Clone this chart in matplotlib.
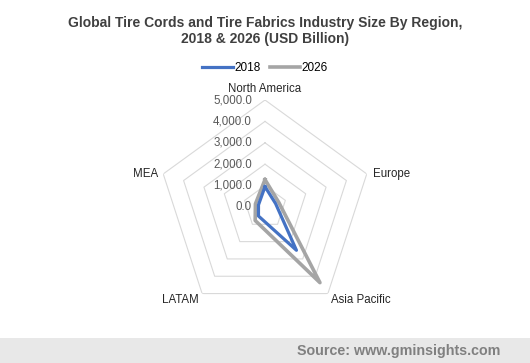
import numpy as np
import matplotlib.pyplot as plt
from matplotlib.patches import Rectangle
from matplotlib.transforms import ScaledTranslation

plt.rcParams['font.family'] = ['Liberation Sans', 'DejaVu Sans']

regions = ["North America", "Europe", "Asia Pacific", "LATAM", "MEA"]
size_2018 = [950, 520, 2500, 520, 320]
size_2026 = [1280, 680, 4370, 780, 470]
rticks = [0, 1000, 2000, 3000, 4000, 5000]

fig = plt.figure(figsize=(5.3, 3.63), dpi=100)
fig.patch.set_facecolor("white")


def shift(dx, dy):
    # offset in pixels (dpi 100)
    return ScaledTranslation(dx / 100, dy / 100, fig.dpi_scale_trans)


# radar axes
ax = fig.add_axes([0.2981, 0.135, 0.4038, 0.5895], projection="polar")
ax.set_theta_offset(np.pi / 2)
ax.set_theta_direction(-1)
ax.set_ylim(0, 5000)
ax.grid(False)
ax.spines["polar"].set_visible(False)
ax.set_xticks([])
ax.set_yticks([])
ax.set_facecolor("none")

theta = np.linspace(0, 2 * np.pi, len(regions), endpoint=False)
theta_c = np.append(theta, theta[0])

# pentagon grid
for r in rticks[1:]:
    ax.plot(theta_c, [r] * len(theta_c), color="#d9d9d9", lw=0.8, zorder=1)

# radial tick labels
for r in rticks:
    ax.text(0, r, f"{r:,.1f}", transform=ax.transData + shift(-13, 0),
            ha="right", va="center", fontsize=8.3, color="#595959")

# category labels
label_pos = {
    "North America": dict(ha="center", va="bottom", off=(0, 5)),
    "Europe": dict(ha="left", va="center", off=(6, 0)),
    "Asia Pacific": dict(ha="left", va="top", off=(3, 0)),
    "LATAM": dict(ha="right", va="top", off=(-3, 0)),
    "MEA": dict(ha="right", va="center", off=(-5, 0)),
}
for th, name in zip(theta, regions):
    p = label_pos[name]
    ax.text(th, 5000, name, transform=ax.transData + shift(*p["off"]),
            ha=p["ha"], va=p["va"], fontsize=8.3, color="#262626")

# data series
v18 = np.append(size_2018, size_2018[0])
v26 = np.append(size_2026, size_2026[0])
l18, = ax.plot(theta_c, v18, color="#4472C4", lw=2.3, zorder=3, solid_joinstyle="round")
l26, = ax.plot(theta_c, v26, color="#A5A5A5", lw=2.6, zorder=2, solid_joinstyle="round")

# title
fig.text(0.5, 0.955, "Global Tire Cords and Tire Fabrics Industry Size By Region,\n2018 & 2026 (USD Billion)",
         ha="center", va="top", fontsize=10, fontweight="bold", color="#404040", linespacing=1.15)

# legend
fig.legend([l18, l26], ["2018", "2026"], loc="center", bbox_to_anchor=(0.5, 0.812),
           ncol=2, frameon=False, fontsize=8.5, handlelength=2.6, handletextpad=0.1,
           columnspacing=0.8)

# source band
fig.patches.append(Rectangle((0, 0), 1, 25 / 363, transform=fig.transFigure,
                             facecolor="#e8e8e8", edgecolor="none", zorder=0))
fig.text(0.945, 12 / 363, "Source: www.gminsights.com", ha="right", va="center",
         fontsize=10.3, fontweight="bold", color="#808080")

fig.savefig("out.png", dpi=100)
